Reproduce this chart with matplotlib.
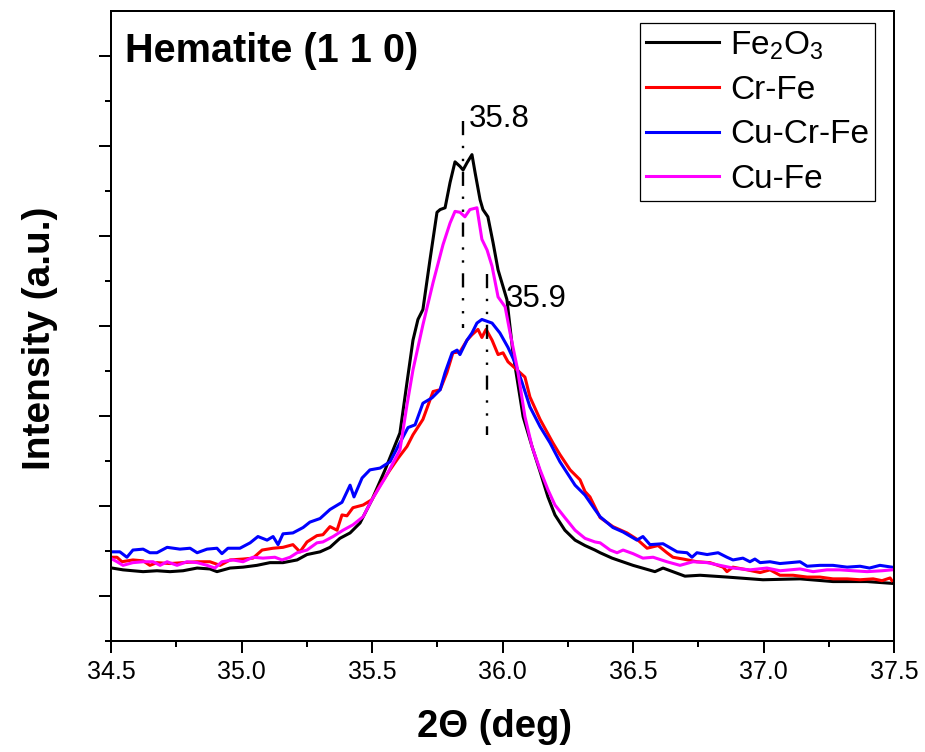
import numpy as np
import matplotlib
matplotlib.use("Agg")
import matplotlib.pyplot as plt
from matplotlib.ticker import FixedLocator, MultipleLocator

plt.rcParams['font.family'] = ['Liberation Sans', 'DejaVu Sans']
plt.rcParams['mathtext.fontset'] = 'custom'
plt.rcParams['mathtext.rm'] = 'Liberation Sans'
plt.rcParams['mathtext.it'] = 'Liberation Sans:italic'
plt.rcParams['mathtext.bf'] = 'Liberation Sans:bold'

# hematite (110) reflection, intensity in arbitrary units
tt_fe2o3 = [34.504, 34.546, 34.584, 34.623, 34.676, 34.726, 34.776, 34.830, 34.879, 34.906,
            34.956, 35.006, 35.059, 35.109, 35.159, 35.213, 35.251, 35.301, 35.339, 35.377,
            35.416, 35.454, 35.500, 35.550, 35.607, 35.634, 35.657, 35.676, 35.695, 35.722,
            35.749, 35.761, 35.780, 35.799, 35.818, 35.837, 35.849, 35.864, 35.883, 35.895,
            35.914, 35.925, 35.944, 35.964, 35.983, 36.017, 36.040, 36.079, 36.113, 36.144,
            36.174, 36.201, 36.239, 36.278, 36.316, 36.354, 36.374, 36.420, 36.500, 36.584,
            36.615, 36.699, 36.757, 36.860, 36.998, 37.140, 37.266, 37.397, 37.492]
i_fe2o3 = [81, 79, 78, 77, 78, 77, 78, 81, 80, 77,
           81, 82, 84, 87, 87, 90, 96, 99, 104, 114,
           120, 131, 157, 190, 231, 287, 334, 357, 368, 423,
           476, 479, 481, 509, 532, 527, 523, 531, 540, 520,
           490, 479, 471, 442, 412, 379, 320, 249, 216, 188,
           160, 140, 123, 112, 106, 101, 98, 92, 84, 77,
           81, 72, 73, 71, 68, 69, 66, 66, 64]

tt_crfe = [34.504, 34.523, 34.542, 34.584, 34.623, 34.649, 34.676, 34.726, 34.776, 34.830,
           34.879, 34.918, 34.956, 35.006, 35.044, 35.079, 35.121, 35.159, 35.197, 35.224,
           35.251, 35.289, 35.312, 35.339, 35.366, 35.385, 35.404, 35.427, 35.466, 35.500,
           35.531, 35.569, 35.600, 35.634, 35.657, 35.695, 35.734, 35.761, 35.787, 35.810,
           35.837, 35.864, 35.883, 35.906, 35.921, 35.937, 35.960, 35.983, 36.002, 36.021,
           36.048, 36.067, 36.086, 36.105, 36.144, 36.193, 36.220, 36.259, 36.297, 36.316,
           36.335, 36.374, 36.423, 36.477, 36.515, 36.554, 36.596, 36.630, 36.653, 36.692,
           36.745, 36.795, 36.845, 36.860, 36.883, 36.937, 36.987, 37.025, 37.063, 37.113,
           37.167, 37.216, 37.266, 37.320, 37.370, 37.420, 37.454, 37.485, 37.492]
i_crfe = [93, 93, 88, 90, 89, 84, 87, 86, 87, 88,
          88, 84, 90, 91, 92, 101, 103, 104, 107, 99,
          110, 117, 118, 127, 123, 140, 139, 148, 151, 157,
          173, 190, 203, 216, 229, 246, 277, 279, 298, 320,
          321, 334, 340, 346, 337, 346, 334, 318, 320, 310,
          303, 298, 293, 271, 246, 220, 207, 190, 179, 166,
          160, 137, 127, 120, 113, 103, 106, 98, 93, 91,
          88, 87, 82, 77, 82, 79, 76, 79, 73, 73,
          71, 71, 69, 69, 68, 69, 67, 70, 67]

tt_cucrfe = [34.504, 34.534, 34.561, 34.584, 34.623, 34.649, 34.676, 34.715, 34.764, 34.803,
             34.830, 34.868, 34.906, 34.925, 34.948, 34.994, 35.033, 35.063, 35.098, 35.121,
             35.140, 35.159, 35.197, 35.236, 35.262, 35.301, 35.339, 35.385, 35.416, 35.431,
             35.462, 35.492, 35.531, 35.569, 35.607, 35.638, 35.665, 35.695, 35.730, 35.761,
             35.780, 35.807, 35.826, 35.837, 35.864, 35.883, 35.902, 35.921, 35.960, 35.990,
             36.021, 36.048, 36.075, 36.105, 36.144, 36.182, 36.220, 36.278, 36.316, 36.354,
             36.374, 36.423, 36.462, 36.515, 36.538, 36.565, 36.615, 36.669, 36.707, 36.726,
             36.745, 36.784, 36.826, 36.860, 36.883, 36.921, 36.948, 36.967, 36.987, 37.025,
             37.063, 37.102, 37.140, 37.167, 37.216, 37.266, 37.320, 37.370, 37.406, 37.446,
             37.492]
i_cucrfe = [99, 99, 93, 101, 102, 98, 98, 104, 102, 103,
            98, 102, 103, 97, 103, 103, 109, 116, 112, 116,
            107, 119, 120, 126, 132, 136, 146, 154, 173, 160,
            181, 190, 192, 199, 220, 237, 240, 264, 270, 279,
            298, 320, 323, 318, 334, 342, 353, 357, 353, 342,
            326, 309, 287, 260, 238, 220, 199, 173, 162, 146,
            138, 126, 121, 112, 116, 107, 108, 99, 98, 93,
            98, 96, 98, 93, 90, 92, 88, 91, 87, 88,
            86, 87, 88, 83, 84, 84, 82, 83, 81, 84,
            82]

tt_cufe = [34.504, 34.523, 34.546, 34.584, 34.623, 34.661, 34.688, 34.715, 34.753, 34.791,
           34.830, 34.868, 34.898, 34.925, 34.967, 35.006, 35.044, 35.082, 35.128, 35.155,
           35.186, 35.213, 35.251, 35.289, 35.312, 35.351, 35.389, 35.427, 35.466, 35.500,
           35.550, 35.607, 35.634, 35.657, 35.695, 35.734, 35.772, 35.799, 35.818, 35.837,
           35.856, 35.875, 35.902, 35.921, 35.941, 35.960, 35.983, 36.010, 36.029, 36.056,
           36.086, 36.113, 36.144, 36.174, 36.201, 36.239, 36.278, 36.316, 36.354, 36.374,
           36.412, 36.439, 36.462, 36.500, 36.538, 36.577, 36.630, 36.680, 36.730, 36.784,
           36.833, 36.883, 36.948, 37.013, 37.063, 37.140, 37.190, 37.243, 37.293, 37.343,
           37.397, 37.454, 37.492]
i_cufe = [91, 88, 84, 87, 88, 88, 84, 88, 84, 88,
          87, 84, 81, 88, 90, 88, 93, 92, 93, 90,
          93, 98, 101, 109, 110, 116, 123, 129, 138, 157,
          181, 212, 262, 301, 351, 398, 440, 464, 477, 476,
          471, 479, 481, 446, 434, 416, 382, 371, 342, 304,
          249, 216, 190, 168, 151, 137, 123, 114, 110, 109,
          101, 98, 101, 97, 92, 93, 88, 84, 88, 87,
          84, 81, 79, 81, 78, 80, 77, 79, 79, 78,
          77, 78, 79]

labels = [r'Fe$_2$O$_3$', 'Cr-Fe', 'Cu-Cr-Fe', 'Cu-Fe']
colors = ['black', 'red', 'blue', 'magenta']

# peak markers: position, y-extent, label text
peak_pos = [35.849, 35.941]
peak_ymin = [348, 229]
peak_ymax = [577, 407]
peak_text = ['35.8', '35.9']
peak_text_xy = [(35.872, 580), (36.013, 380)]

fig = plt.figure(figsize=(9.25, 7.52), dpi=100)
ax = fig.add_axes([0.12, 0.1476, 0.8465, 0.8384])

series = [(tt_fe2o3, i_fe2o3), (tt_crfe, i_crfe), (tt_cucrfe, i_cucrfe), (tt_cufe, i_cufe)]
for (x, y), lab, c in zip(series, labels, colors):
    ax.plot(x, y, color=c, lw=2.2, label=lab)

# dash-dot-dot markers, drawn top-down so the pattern starts with a dash
for p, lo, hi in zip(peak_pos, peak_ymin, peak_ymax):
    ax.plot([p, p], [hi, lo], color='black', lw=1.7,
            linestyle=(0, (6, 4.5, 1, 4.5, 1, 4.5)))
for t, (tx, ty) in zip(peak_text, peak_text_xy):
    ax.text(tx, ty, t, fontsize=22.5, ha='left', va='center')

ax.text(0.018, 0.918, 'Hematite (1 1 0)', transform=ax.transAxes,
        fontsize=28.5, fontweight='bold', ha='left', va='baseline')

ax.set_xlim(34.5, 37.5)
ax.set_ylim(0, 700)
ax.xaxis.set_major_locator(MultipleLocator(0.5))
ax.xaxis.set_minor_locator(MultipleLocator(0.25))
ax.yaxis.set_major_locator(FixedLocator([50, 150, 250, 350, 450, 550, 650]))
ax.yaxis.set_minor_locator(FixedLocator([0, 100, 200, 300, 400, 500, 600]))
ax.set_yticklabels([])
ax.xaxis.set_major_formatter(plt.FuncFormatter(lambda v, p: f'{v:.1f}'))

ax.tick_params(which='major', direction='out', length=8.6, width=1.44, labelsize=18, pad=5)
ax.tick_params(which='minor', direction='out', length=4.3, width=1.44)
for s in ax.spines.values():
    s.set_linewidth(1.44)

ax.set_xlabel('2Θ (deg)', fontsize=27.5, fontweight='bold')
ax.set_ylabel('Intensity (a.u.)', fontsize=28, fontweight='bold')
ax.xaxis.set_label_coords(0.49, -0.108)
ax.yaxis.set_label_coords(-0.068, 0.48)

leg = ax.legend(loc='upper right', bbox_to_anchor=(0.9757, 0.980), fontsize=24,
                frameon=True, fancybox=False, edgecolor='black', framealpha=1,
                handlelength=2.2, handletextpad=0.33, borderpad=0.18,
                labelspacing=0.4, borderaxespad=0)
leg.get_frame().set_linewidth(0.9)

fig.savefig('out.png', dpi=100)
